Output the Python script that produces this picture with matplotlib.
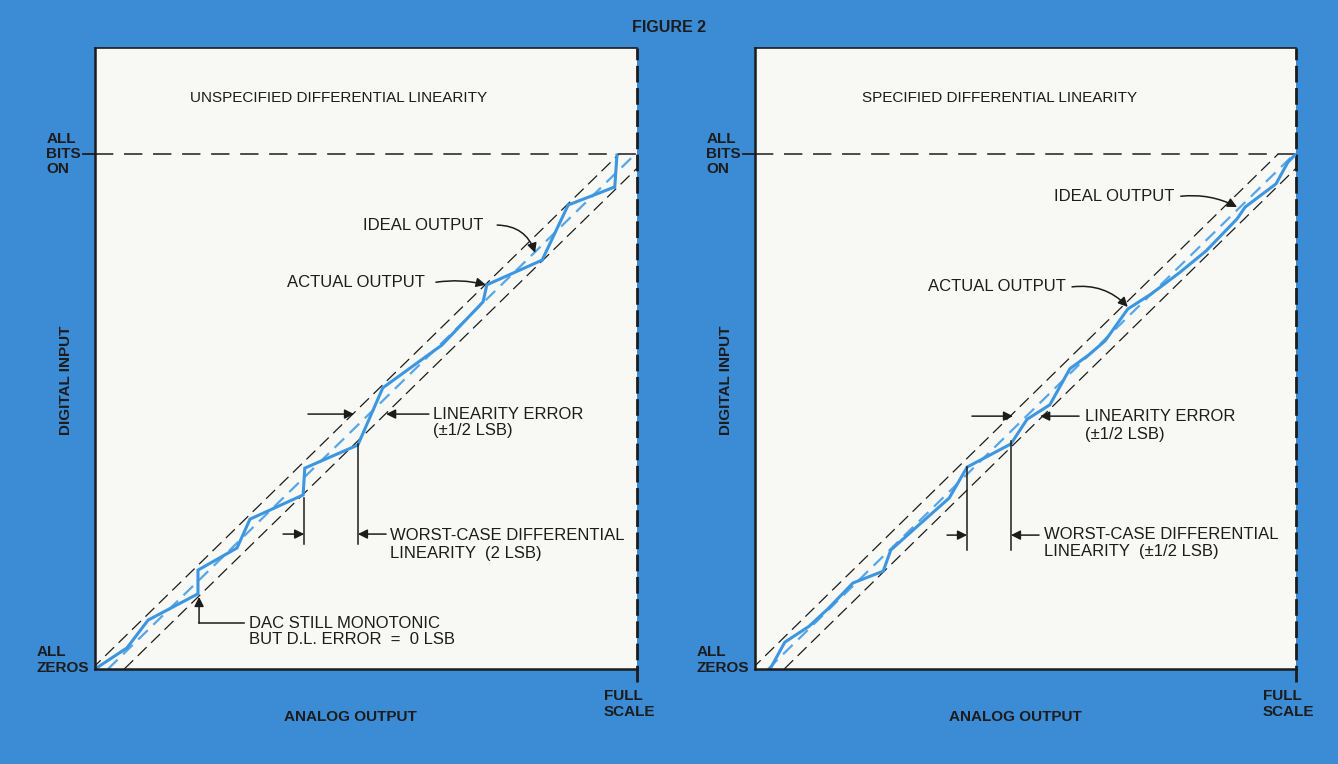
import matplotlib
matplotlib.use('Agg')
import matplotlib.pyplot as plt

plt.rcParams['font.family'] = ['Liberation Sans', 'DejaVu Sans']

# x = analog output (fraction of full scale), y = digital input (fraction of all bits on)
ideal_x = [0.024, 0.997]
ideal_y = [0.0, 1.0]
half_lsb = 0.03

unspec_x = [0.0, 0.059, 0.098, 0.190, 0.190, 0.262, 0.286, 0.384, 0.387, 0.485,
            0.531, 0.640, 0.716, 0.723, 0.825, 0.873, 0.959, 0.963]
unspec_y = [0.0, 0.041, 0.095, 0.146, 0.192, 0.235, 0.291, 0.338, 0.390, 0.435,
            0.546, 0.629, 0.713, 0.746, 0.794, 0.901, 0.936, 0.998]

spec_x = [0.028, 0.055, 0.100, 0.135, 0.181, 0.237, 0.251, 0.301, 0.359, 0.392, 0.473,
          0.503, 0.545, 0.582, 0.617, 0.647, 0.689, 0.732, 0.784, 0.834, 0.891,
          0.906, 0.963, 0.985, 0.998]
spec_y = [0.0, 0.052, 0.083, 0.117, 0.167, 0.190, 0.231, 0.278, 0.332, 0.392, 0.437,
          0.485, 0.513, 0.583, 0.610, 0.637, 0.699, 0.728, 0.769, 0.812, 0.874,
          0.897, 0.942, 0.984, 0.998]

BLUE_BG = '#3b8bd5'
PAPER = '#f8f8f5'
INK = '#1c1c1c'
LINE_BLUE = '#3d96e0'
DASH_BLUE = '#58a6e6'

W, H = 1338, 764
BOX_TOP, BOX_BOT, FS_Y = 48, 669, 154
fig = plt.figure(figsize=(W / 100, H / 100), dpi=100, facecolor=BLUE_BG)

unit = BOX_BOT - FS_Y
top = (BOX_BOT - BOX_TOP) / unit


def arrow(ax, tail, tip, rad=0.0):
    ax.annotate('', xy=tip, xytext=tail,
                arrowprops=dict(arrowstyle='-|>', color=INK, lw=1.1, mutation_scale=14,
                                shrinkA=0, shrinkB=0,
                                connectionstyle='arc3,rad=%s' % rad))


def panel(x0, x1, title, title_x, ax_x, ay_x, act_x, act_y):
    ax = fig.add_axes([x0 / W, (H - BOX_BOT) / H, (x1 - x0) / W, (BOX_BOT - BOX_TOP) / H])
    ax.set_facecolor(PAPER)
    ax.set_xlim(0, 1)
    ax.set_ylim(0, top)
    ax.set_xticks([])
    ax.set_yticks([])
    for s in ['left', 'bottom']:
        ax.spines[s].set_linewidth(1.8)
        ax.spines[s].set_color(INK)
    ax.spines['top'].set_linewidth(1.2)
    ax.spines['top'].set_color(INK)
    ax.spines['right'].set_visible(False)
    # dashed right edge running below the frame
    ax.plot([1, 1], [-13 / unit, top], color=INK, lw=2, dashes=(6, 2), clip_on=False)
    # all bits on
    ax.plot([0, 1], [1, 1], color=INK, lw=1.1, dashes=(12, 7))
    ax.plot([-12 / (x1 - x0), 0], [1, 1], color=INK, lw=1.3, clip_on=False)
    # +-1/2 LSB band
    for off in (-half_lsb, half_lsb):
        ax.plot([v + off for v in ideal_x], ideal_y, color=INK, lw=0.9, dashes=(10, 5))
    ax.plot(ideal_x, ideal_y, color=DASH_BLUE, lw=1.6, dashes=(6, 3.5))
    ax.plot(act_x, act_y, color=LINE_BLUE, lw=2.2, solid_joinstyle='miter')

    ax.text(title_x, (BOX_BOT - 98) / unit, title, fontsize=11, color=INK, ha='left', va='center')

    # outside labels
    lab = dict(fontsize=11, color=INK, fontweight='bold', linespacing=1.1)
    fig.text((x0 - 14) / W, 1 - 154 / H, 'ALL\nBITS\nON', ha='right', va='center',
             multialignment='left', **lab)
    fig.text((x0 - 6) / W, 1 - 660 / H, 'ALL\nZEROS', ha='right', va='center',
             multialignment='left', **lab)
    fig.text(ay_x / W, 1 - 380 / H, 'DIGITAL INPUT', rotation=90, ha='center',
             va='center', **lab)
    fig.text(ax_x / W, 1 - 717 / H, 'ANALOG OUTPUT', ha='center', va='center', **lab)
    fig.text((x1 - 33) / W, 1 - 704 / H, 'FULL\nSCALE', ha='left', va='center',
             multialignment='left', **lab)
    return ax


# left: unspecified differential linearity
ax = panel(95, 637, 'UNSPECIFIED DIFFERENTIAL LINEARITY', 0.175, 350, 66, unspec_x, unspec_y)
ax.text(0.495, 0.862, 'IDEAL OUTPUT', fontsize=12, color=INK, va='center')
arrow(ax, (0.742, 0.862), (0.812, 0.808), rad=-0.35)
ax.text(0.354, 0.751, 'ACTUAL OUTPUT', fontsize=12, color=INK, va='center')
arrow(ax, (0.629, 0.751), (0.721, 0.746), rad=-0.1)
ax.text(0.624, 0.495, 'LINEARITY ERROR', fontsize=12, color=INK, va='center')
ax.text(0.624, 0.464, '(±1/2 LSB)', fontsize=12, color=INK, va='center')
arrow(ax, (0.393, 0.495), (0.478, 0.495))
arrow(ax, (0.616, 0.495), (0.537, 0.495))
ax.plot([0.386, 0.386], [0.332, 0.243], color=INK, lw=1.1)
ax.plot([0.485, 0.485], [0.437, 0.243], color=INK, lw=1.1)
arrow(ax, (0.347, 0.262), (0.386, 0.262))
arrow(ax, (0.537, 0.262), (0.485, 0.262))
ax.text(0.544, 0.260, 'WORST-CASE DIFFERENTIAL', fontsize=12, color=INK, va='center')
ax.text(0.544, 0.225, 'LINEARITY  (2 LSB)', fontsize=12, color=INK, va='center')
ax.plot([0.275, 0.192], [0.089, 0.089], color=INK, lw=1.1)
arrow(ax, (0.192, 0.089), (0.192, 0.140))
ax.text(0.284, 0.089, 'DAC STILL MONOTONIC', fontsize=12, color=INK, va='center')
ax.text(0.284, 0.058, 'BUT D.L. ERROR  =  0 LSB', fontsize=12, color=INK, va='center')

# right: specified differential linearity
ax = panel(755, 1296, 'SPECIFIED DIFFERENTIAL LINEARITY', 0.198, 1015, 726, spec_x, spec_y)
ax.text(0.553, 0.918, 'IDEAL OUTPUT', fontsize=12, color=INK, va='center')
arrow(ax, (0.787, 0.918), (0.891, 0.897), rad=-0.15)
ax.text(0.320, 0.742, 'ACTUAL OUTPUT', fontsize=12, color=INK, va='center')
arrow(ax, (0.586, 0.742), (0.689, 0.703), rad=-0.25)
ax.text(0.610, 0.491, 'LINEARITY ERROR', fontsize=12, color=INK, va='center')
ax.text(0.610, 0.456, '(±1/2 LSB)', fontsize=12, color=INK, va='center')
arrow(ax, (0.401, 0.491), (0.477, 0.491))
arrow(ax, (0.599, 0.491), (0.527, 0.491))
ax.plot([0.392, 0.392], [0.392, 0.231], color=INK, lw=1.1)
ax.plot([0.473, 0.473], [0.443, 0.231], color=INK, lw=1.1)
arrow(ax, (0.355, 0.260), (0.392, 0.260))
arrow(ax, (0.525, 0.260), (0.473, 0.260))
ax.text(0.534, 0.262, 'WORST-CASE DIFFERENTIAL', fontsize=12, color=INK, va='center')
ax.text(0.534, 0.229, 'LINEARITY  (±1/2 LSB)', fontsize=12, color=INK, va='center')

fig.text(669 / W, 1 - 28 / H, 'FIGURE 2', fontsize=11.5, color=INK, ha='center',
         va='center', fontweight='bold')

plt.savefig('out.png', dpi=100, facecolor=BLUE_BG)
